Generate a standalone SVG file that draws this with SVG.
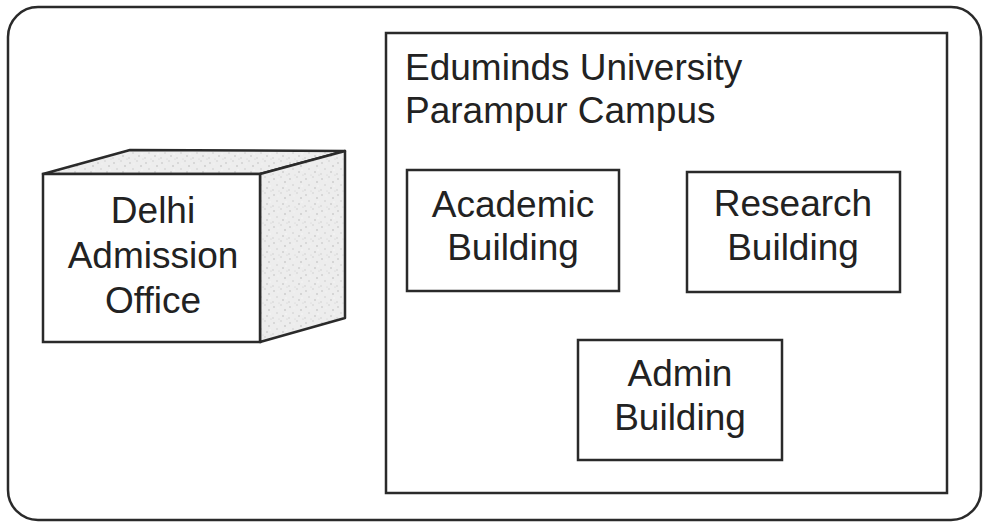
<svg xmlns="http://www.w3.org/2000/svg" width="985" height="529" viewBox="0 0 985 529">
  <style>
    .frame { fill: #ffffff; stroke: #2a2a2a; stroke-width: 2.5; }
    .box { fill: #ffffff; stroke: #2a2a2a; stroke-width: 2.5; }
    .shade { fill: url(#stipple); stroke: #2a2a2a; stroke-width: 2.5; stroke-linejoin: round; }
    .lbl { font-family: "Liberation Sans", Arial, Helvetica, sans-serif; font-size: 37px; fill: #222222; }
    .mid { text-anchor: middle; }
  </style>
  <defs>
    <pattern id="stipple" width="16" height="16" patternUnits="userSpaceOnUse">
      <rect width="16" height="16" fill="#ededed"/>
      <circle cx="2" cy="3" r="0.8" fill="#bdbdbd"/>
      <circle cx="9" cy="1" r="0.7" fill="#c8c8c8"/>
      <circle cx="13" cy="6" r="0.8" fill="#b8b8b8"/>
      <circle cx="5" cy="9" r="0.7" fill="#c4c4c4"/>
      <circle cx="11" cy="12" r="0.8" fill="#bcbcbc"/>
      <circle cx="1" cy="14" r="0.7" fill="#c6c6c6"/>
      <circle cx="7" cy="15" r="0.6" fill="#d0d0d0"/>
      <circle cx="15" cy="15" r="0.6" fill="#cccccc"/>
      <circle cx="6" cy="4" r="0.6" fill="#f8f8f8"/>
      <circle cx="14" cy="10" r="0.7" fill="#fafafa"/>
    </pattern>
  </defs>

  <g id="environment">
    <rect class="frame" x="8" y="7" width="973" height="513" rx="30" ry="30"/>
  </g>

  <g id="delhi-admission-office">
    <polygon class="shade" points="43,174 130,150 345,151 260,174"/>
    <polygon class="shade" points="260,174 345,151 345,318 260,342"/>
    <rect class="box" x="43" y="174" width="217" height="168"/>
    <text class="lbl mid" x="153" y="223">Delhi</text>
    <text class="lbl mid" x="153" y="268">Admission</text>
    <text class="lbl mid" x="153" y="313">Office</text>
  </g>

  <g id="parampur-campus">
    <rect class="box" x="386" y="33" width="561" height="460"/>
    <text class="lbl" x="405" y="80">Eduminds University</text>
    <text class="lbl" x="405" y="123">Parampur Campus</text>
  </g>

  <g id="academic-building">
    <rect class="box" x="407" y="170" width="212" height="121"/>
    <text class="lbl mid" x="513" y="217">Academic</text>
    <text class="lbl mid" x="513" y="260">Building</text>
  </g>

  <g id="research-building">
    <rect class="box" x="687" y="172" width="213" height="120"/>
    <text class="lbl mid" x="793" y="216">Research</text>
    <text class="lbl mid" x="793" y="260">Building</text>
  </g>

  <g id="admin-building">
    <rect class="box" x="578" y="340" width="204" height="120"/>
    <text class="lbl mid" x="680" y="386">Admin</text>
    <text class="lbl mid" x="680" y="430">Building</text>
  </g>

  <g id="connectors"></g>
</svg>
